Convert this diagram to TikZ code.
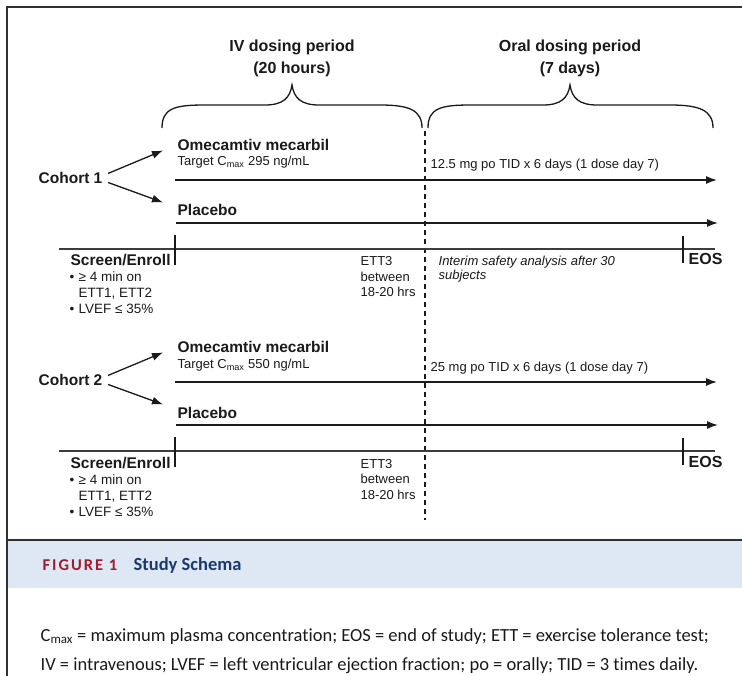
\documentclass[tikz,border=0pt]{standalone}
\usepackage{fontspec}
\setmainfont{Liberation Sans}
\newfontfamily\capfont[Ligatures=NoCommon]{Carlito}
\usetikzlibrary{arrows.meta}
\definecolor{figred}{HTML}{A3192F}
\definecolor{fignavy}{HTML}{1B3A6B}
\definecolor{bandblue}{HTML}{DEE8F4}
\definecolor{ink}{HTML}{1A1A1A}

\begin{document}
\begin{tikzpicture}[x=1pt,y=-1pt,>={Latex[length=11pt,width=8pt]},line width=1.3pt,
    lbl/.style={anchor=base west,inner sep=0pt,text=ink,font=\fontsize{13}{15.5}\selectfont},
    boldlbl/.style={lbl,font=\fontsize{15.5}{18}\selectfont\bfseries},
    bullet/.style={lbl,font=\fontsize{13.5}{16}\selectfont},
    head/.style={anchor=base,inner sep=0pt,text=ink,font=\fontsize{16}{22}\selectfont\bfseries},
    note/.style={lbl,align=left,font=\fontsize{13}{14}\selectfont\itshape},
    capline/.style={anchor=base west,inner sep=0pt,text=ink,font=\capfont\fontsize{18.5}{30}\selectfont}]
  \useasboundingbox (0,0) rectangle (742,676);
  \fill[white] (0,0) rectangle (742,676);

  % frame and caption band
  \fill[bandblue] (7,541) rectangle (742,588);
  \draw[ink!90] (7,676) -- (7,7) -- (742,7);
  \draw[ink!90] (7,540) -- (742,540);

  % periods
  \node[head] (ivh) at (292,52) {IV dosing period};
  \node[head] (ivh2) at (292,74) {(20 hours)};
  \node[head] (orh) at (570,52) {Oral dosing period};
  \node[head] (orh2) at (570,74) {(7 days)};
  \draw[ink] (162,128) .. controls (162,108) and (175,105) .. (205,105) -- (265,105)
    .. controls (283,105) and (290,98) .. (292,85) .. controls (294,98) and (301,105) .. (319,105)
    -- (380,105) .. controls (409,105) and (422,110) .. (422,128);
  \draw[ink] (428,128) .. controls (428,108) and (441,105) .. (471,105) -- (543,105)
    .. controls (561,105) and (568,98) .. (570,85) .. controls (572,98) and (579,105) .. (597,105)
    -- (670,105) .. controls (699,105) and (713,110) .. (713,128);
  \coordinate (dtop) at (425,131);
  \coordinate (dbot) at (425,520);
  \draw[ink,dash pattern=on 5pt off 4pt] (dtop) -- (dbot);

  % cohort 1
  \node[boldlbl] (c1) at (38,184) {Cohort 1};
  \node[boldlbl] (om1) at (177,151) {Omecamtiv mecarbil};
  \node[lbl] (tg1) at (177,166) {Target C\textsubscript{max} 295 ng/mL};
  \node[boldlbl] (pl1) at (177,216) {Placebo};
  \node[lbl] (po1) at (430,169) {12.5 mg po TID x 6 days (1 dose day 7)};
  \coordinate (om1s) at (175,180);
  \coordinate (om1e) at (717,180);
  \coordinate (pl1s) at (176,223);
  \coordinate (pl1e) at (718,223);
  \draw[->,ink] ([shift={(5pt,5pt)}]c1.east) -- ([shift={(-14pt,-5pt)}]om1.west);
  \draw[->,ink] ([shift={(5pt,-4pt)}]c1.east) -- ([shift={(-14pt,8pt)}]pl1.west);
  \draw[->,ink] (om1s) -- (om1e);
  \draw[->,ink] (pl1s) -- (pl1e);
  \coordinate (tl1s) at (59,249);
  \coordinate (tl1e) at (715,249);
  \draw[ink!85,line width=1.2pt] (tl1s) -- (tl1e);
  \draw[ink,line width=1.2pt] (175,235) -- (175,265);
  \draw[ink,line width=1.2pt] (683,236) -- (683,263);
  \node[boldlbl] (se1) at (70,266) {Screen/Enroll};
  \node[bullet] (b1a) at (69,282) {\makebox[9pt][l]{\textbullet}≥ 4 min on};
  \node[bullet] (b1b) at (78,298) {ETT1, ETT2};
  \node[bullet] (b1c) at (69,314) {\makebox[9pt][l]{\textbullet}LVEF ≤ 35\%};
  \node[lbl,align=left] (et1) at (360,297) {ETT3\\between\\18-20 hrs};
  \node[note] (ia1) at (438,280) {Interim safety analysis after 30\\subjects};
  \node[boldlbl,font=\fontsize{16}{18}\selectfont\bfseries] (eos1) at (688,265) {EOS};

  % cohort 2
  \node[boldlbl] (c2) at (38,386) {Cohort 2};
  \node[boldlbl] (om2) at (177,353) {Omecamtiv mecarbil};
  \node[lbl] (tg2) at (177,369) {Target C\textsubscript{max} 550 ng/mL};
  \node[boldlbl] (pl2) at (177,418) {Placebo};
  \node[lbl] (po2) at (430,371) {25 mg po TID x 6 days (1 dose day 7)};
  \coordinate (om2s) at (175,382);
  \coordinate (om2e) at (717,382);
  \coordinate (pl2s) at (176,425);
  \coordinate (pl2e) at (718,425);
  \draw[->,ink] ([shift={(5pt,5pt)}]c2.east) -- ([shift={(-14pt,-5pt)}]om2.west);
  \draw[->,ink] ([shift={(5pt,-4pt)}]c2.east) -- ([shift={(-14pt,8pt)}]pl2.west);
  \draw[->,ink] (om2s) -- (om2e);
  \draw[->,ink] (pl2s) -- (pl2e);
  \coordinate (tl2s) at (59,451);
  \coordinate (tl2e) at (715,451);
  \draw[ink!85,line width=1.2pt] (tl2s) -- (tl2e);
  \draw[ink,line width=1.2pt] (175,437) -- (175,467);
  \draw[ink,line width=1.2pt] (683,438) -- (683,465);
  \node[boldlbl] (se2) at (70,468) {Screen/Enroll};
  \node[bullet] (b2a) at (69,484) {\makebox[9pt][l]{\textbullet}≥ 4 min on};
  \node[bullet] (b2b) at (78,500) {ETT1, ETT2};
  \node[bullet] (b2c) at (69,516) {\makebox[9pt][l]{\textbullet}LVEF ≤ 35\%};
  \node[lbl,align=left] (et2) at (360,499) {ETT3\\between\\18-20 hrs};
  \node[boldlbl,font=\fontsize{16}{18}\selectfont\bfseries] (eos2) at (688,467) {EOS};

  % caption
  \node[anchor=base west,inner sep=0pt,text=figred,font=\capfont\fontsize{16.5}{18}\selectfont\bfseries\addfontfeature{LetterSpace=12}] (fig) at (42,570) {FIGURE 1};
  \node[anchor=base west,inner sep=0pt,text=fignavy,font=\capfont\fontsize{18.5}{18}\selectfont\bfseries] (ttl) at (133,570) {Study Schema};
  \node[capline] (cap1) at (40,641) {C\textsubscript{max} = maximum plasma concentration; EOS = end of study; ETT = exercise tolerance test;};
  \node[capline] (cap2) at (40,670) {IV = intravenous; LVEF = left ventricular ejection fraction; po = orally; TID = 3 times daily.};
\end{tikzpicture}
\end{document}
